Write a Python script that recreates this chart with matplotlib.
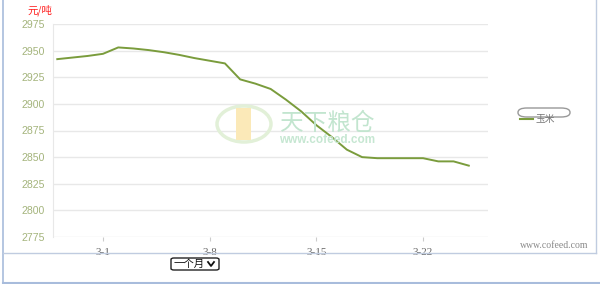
import numpy as np
import matplotlib.pyplot as plt
from matplotlib.patches import FancyBboxPatch, Ellipse, Rectangle
from matplotlib.lines import Line2D

plt.rcParams['font.family'] = ['Noto Sans CJK SC', 'DejaVu Sans']

# 日期 (相对 3-1 的天数) 和 玉米价格 元/吨
days = [-3, -2, -1, 0, 1, 2, 3, 4, 5, 6, 7, 8, 9, 10,
        11, 12, 13, 14, 15, 16, 17, 18, 19, 20, 21, 22, 23, 24]
price = [2942, 2943.5, 2945, 2947, 2953, 2952, 2950.5, 2948.5, 2946, 2943, 2940.5, 2938, 2923, 2919,
         2914, 2904, 2893, 2880, 2869, 2857, 2850, 2849, 2849, 2849, 2849, 2846, 2846, 2842]
tick_days = [0, 7, 14, 21]
tick_labels = ['3-1', '3-8', '3-15', '3-22']
yticks = [2775, 2800, 2825, 2850, 2875, 2900, 2925, 2950, 2975]

fig = plt.figure(figsize=(6, 2.84), dpi=100)
ax = fig.add_axes([53/600, 1-237/284, 435/600, 213/284])

ax.plot(days, price, color='#7a9c3c', lw=1.4, solid_joinstyle='round', zorder=3)

ax.set_xlim(-3.28, 25.26)
ax.set_ylim(2775, 2975)
ax.set_yticks(yticks)
ax.set_xticks(tick_days)
ax.set_xticklabels(tick_labels, family='Liberation Serif', fontsize=8, color='#666666')
ax.set_yticklabels([str(v) for v in yticks], family='Liberation Sans', fontsize=7.6, color='#a4b47c')
ax.tick_params(axis='y', length=0, pad=6)
ax.tick_params(axis='x', length=3, color='#cccccc', pad=5)
ax.grid(axis='y', color='#e8e8e8', lw=1)
for s in ['top', 'right', 'bottom']:
    ax.spines[s].set_visible(False)
ax.spines['left'].set_color('#e8e8e8')

# 水印
fig.patches.append(Ellipse((244/600, 1-124/284), 54/600, 36/284, transform=fig.transFigure,
                           fc='none', ec='#e2f0d8', lw=2.5, zorder=0))
fig.patches.append(Rectangle((236/600, 1-140/284), 15/600, 32/284, transform=fig.transFigure,
                             fc='#fbe9b8', ec='none', zorder=0))
fig.text(327/600, 1-123/284, '天下粮仓', fontsize=17, color='#c2e5cf', ha='center', va='center', zorder=0)
fig.text(327/600, 1-140/284, 'www.cofeed.com', fontsize=8.5, color='#c6e7d2', ha='center', va='center',
         family='Liberation Sans', weight='bold', zorder=0)

fig.text(27/600, 1-10/284, '元/吨', fontsize=7.5, color='#ff2020', va='center')

# 图例
fig.patches.append(FancyBboxPatch((518/600, 1-117/284), 52/600, 9/284, boxstyle='round,pad=0,rounding_size=0.015',
                                  transform=fig.transFigure, fc='white', ec='#999999', lw=1))
fig.lines.append(Line2D([520/600, 533/600], [1-119/284, 1-119/284], transform=fig.transFigure,
                        color='#7a9c3c', lw=1.5))
fig.text(536/600, 1-119/284, '玉米', fontsize=7, color='#777777', va='center')

fig.text(588/600, 1-245/284, 'www.cofeed.com', fontsize=7, color='#888888', ha='right', va='center',
         family='Liberation Serif')

# 边框
blue = '#a8bcdc'
fig.lines.append(Line2D([3/600, 3/600], [1, 0], transform=fig.transFigure, color=blue, lw=1.2))
fig.lines.append(Line2D([3/600, 596/600], [1-253/284, 1-253/284], transform=fig.transFigure, color='#c0cce0', lw=1))
fig.lines.append(Line2D([596/600, 596/600], [1, 1-253/284], transform=fig.transFigure, color='#c0cce0', lw=1))
fig.lines.append(Line2D([3/600, 599/600], [1-282.5/284, 1-282.5/284], transform=fig.transFigure, color=blue, lw=1.5))

# 下拉框
fig.patches.append(FancyBboxPatch((171/600, 1-270/284), 48/600, 12/284, boxstyle='round,pad=0,rounding_size=0.005',
                                  transform=fig.transFigure, fc='white', ec='#222222', lw=1))
fig.text(174/600, 1-264/284, '一个月', fontsize=7.5, color='#111111', va='center')
fig.lines.append(Line2D([208/600, 211/600, 214/600], [1-262/284, 1-266/284, 1-262/284],
                        transform=fig.transFigure, color='#111111', lw=1.3))

fig.savefig('out.png', dpi=100)
